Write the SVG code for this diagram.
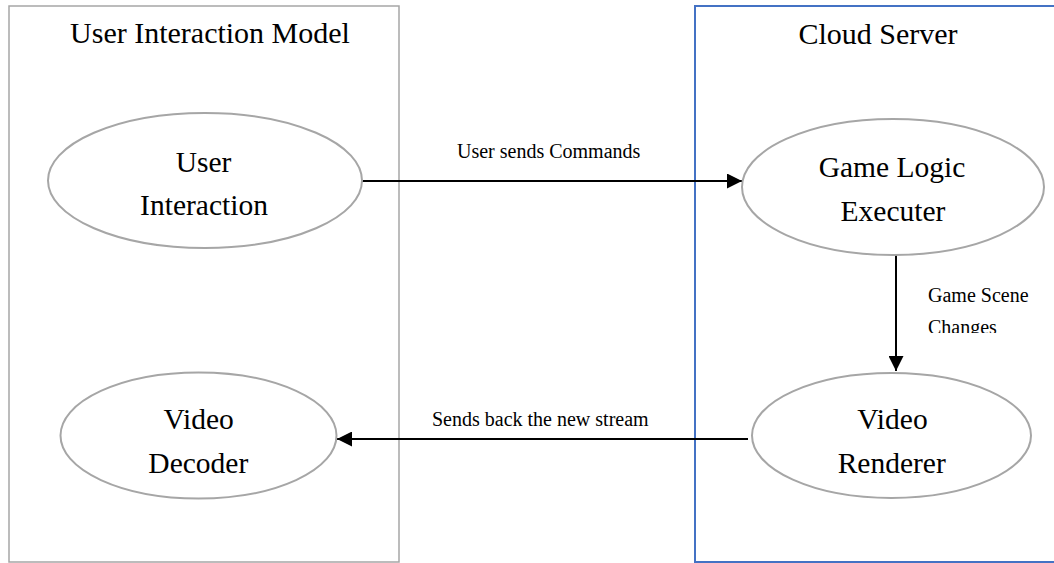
<svg xmlns="http://www.w3.org/2000/svg" width="1054" height="563" viewBox="0 0 1054 563">
<style>
text{font-family:"Liberation Serif","Times New Roman",Times,serif;fill:#000;}
.t{font-size:30px;text-anchor:middle;}
.n{font-size:29.5px;text-anchor:middle;}
.l{font-size:20px;}
.node ellipse{fill:#fff;stroke:#a6a6a6;stroke-width:2;}
.edge{stroke:#000;stroke-width:2;fill:none;}
</style>
<defs>
<marker id="ah" markerWidth="15" markerHeight="15" refX="15" refY="7.5" orient="auto" markerUnits="userSpaceOnUse">
<path d="M0,0 L15,7.5 L0,15 Z" fill="#000"/>
</marker>
<clipPath id="clipCh"><rect x="900" y="280" width="154" height="53"/></clipPath>
</defs>
<rect width="1054" height="563" fill="#fff"/>
<g id="user-interaction-model">
<rect x="9" y="6" width="390" height="556" fill="none" stroke="#a6a6a6" stroke-width="1.5"/>
<text class="t" x="210" y="43">User Interaction Model</text>
</g>
<g id="cloud-server">
<rect x="695" y="6" width="370" height="556" fill="none" stroke="#4472c4" stroke-width="2"/>
<text class="t" x="878" y="44">Cloud Server</text>
</g>
<g id="connectors">
<line class="edge" x1="362" y1="181" x2="742" y2="181" marker-end="url(#ah)"/>
<line class="edge" x1="896" y1="255" x2="896" y2="371" marker-end="url(#ah)"/>
<line class="edge" x1="748" y1="439" x2="337" y2="439" marker-end="url(#ah)"/>
<text class="l" x="457" y="158">User sends Commands</text>
<text class="l" x="432" y="425.5">Sends back the new stream</text>
<text class="l" x="928" y="301.5">Game Scene</text>
<text class="l" x="928" y="334" clip-path="url(#clipCh)">Changes</text>
</g>
<g id="node-user-interaction" class="node">
<ellipse cx="205" cy="180.5" rx="157" ry="67.5"/>
<text class="n" x="203.5" y="172">User</text>
<text class="n" x="204" y="215">Interaction</text>
</g>
<g id="node-game-logic-executer" class="node">
<ellipse cx="893" cy="187" rx="151" ry="68"/>
<text class="n" x="892" y="177">Game Logic</text>
<text class="n" x="893" y="221">Executer</text>
</g>
<g id="node-video-renderer" class="node">
<ellipse cx="891.5" cy="435.5" rx="139.5" ry="62.5"/>
<text class="n" x="892.5" y="429">Video</text>
<text class="n" x="891.7" y="473">Renderer</text>
</g>
<g id="node-video-decoder" class="node">
<ellipse cx="198.5" cy="435.5" rx="138" ry="63"/>
<text class="n" x="198.7" y="429">Video</text>
<text class="n" x="198.3" y="473">Decoder</text>
</g>
</svg>
